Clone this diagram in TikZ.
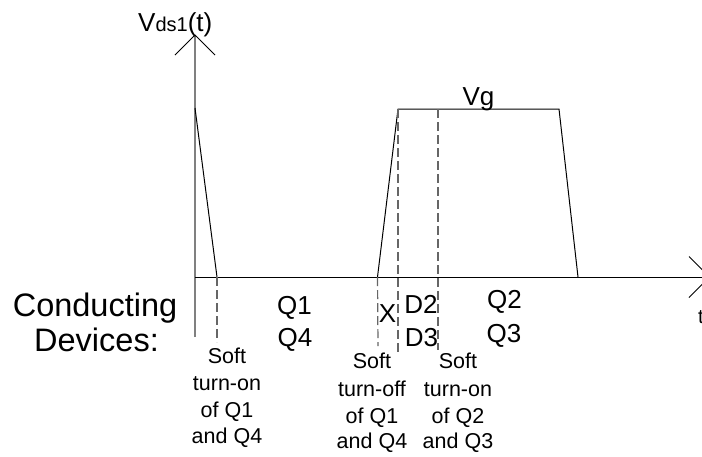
\documentclass[tikz,border=0pt]{standalone}
\usepackage{fontspec}
\setmainfont{Liberation Sans}
\begin{document}
\begin{tikzpicture}[x=1pt,y=-1pt,
  axisline/.style={line width=1pt,black},
  vaxis/.style={line width=2pt,draw=black!50},
  wave/.style={line width=1pt,black},
  guide/.style={line width=1.2pt,draw=black!60,dash pattern=on 9pt off 4pt},
  lbl/.style={inner sep=0pt,anchor=base,font=\fontsize{26}{30}\selectfont},
  biglbl/.style={inner sep=0pt,anchor=base,font=\fontsize{32.5}{38}\selectfont},
  small/.style={inner sep=0pt,anchor=base,font=\fontsize{21.5}{26}\selectfont}]
\useasboundingbox (0,0) rectangle (702,456);
% coordinates
\coordinate (O) at (195,277);
\coordinate (ytop) at (195,35);
\coordinate (ybot) at (195,337);
\coordinate (xend) at (709.5,277);
\coordinate (s0) at (195,108);
\coordinate (s1) at (217,277);
\coordinate (r0) at (377.5,277);
\coordinate (r1) at (398,109);
\coordinate (r2) at (559,109);
\coordinate (r3) at (578,277);
% axes
\draw[vaxis] (ybot) -- (ytop);
\draw[axisline] (175,55) -- (ytop) -- (215,55);
\draw[axisline] (O) -- (xend);
\draw[axisline] (689,256.5) -- (xend) -- (689,297.5);
% waveform
\draw[wave] (s0) -- (s1);
\draw[wave] (r0) -- (r1) -- (r2) -- (r3);
% dashed guides
\draw[guide] (s1) -- (217,342);
\draw[guide] (r0) -- (378,346);
\draw[guide] (r1) -- (398,352);
\draw[guide] (438,109) -- (438,350);
% labels
\node[inner sep=0pt,anchor=base west] (vds) at (138,31)
  {\fontsize{26}{30}\selectfont V\fontsize{20}{24}\selectfont ds1\fontsize{26}{30}\selectfont (t)};
\node[lbl] (vg) at (478.5,105) {Vg};
\node[inner sep=0pt,anchor=base west,font=\fontsize{20}{24}\selectfont] (tl) at (698,323) {t};
\node[biglbl] (cond) at (95,316) {Conducting};
\node[biglbl] (dev) at (96.5,351) {Devices:};
\node[lbl] (q1) at (294.5,314) {Q1};
\node[lbl] (q4) at (295,346) {Q4};
\node[lbl] (x) at (387.5,322) {X};
\node[lbl] (d2) at (421,313) {D2};
\node[lbl] (d3) at (421.5,346) {D3};
\node[lbl] (q2) at (504.5,308) {Q2};
\node[lbl] (q3) at (504,342) {Q3};
% small annotations
\node[small] (a1) at (227,363) {Soft};
\node[small] (a2) at (227,390) {turn-on};
\node[small] (a3) at (227,417) {of Q1};
\node[small] (a4) at (227,443) {and Q4};
\node[small] (b1) at (372,368) {Soft};
\node[small] (b2) at (372,396) {turn-off};
\node[small] (b3) at (372,423) {of Q1};
\node[small] (b4) at (372,448) {and Q4};
\node[small] (c1) at (458,368) {Soft};
\node[small] (c2) at (458,396) {turn-on};
\node[small] (c3) at (458,423) {of Q2};
\node[small] (c4) at (458,448) {and Q3};
\end{tikzpicture}
\end{document}
